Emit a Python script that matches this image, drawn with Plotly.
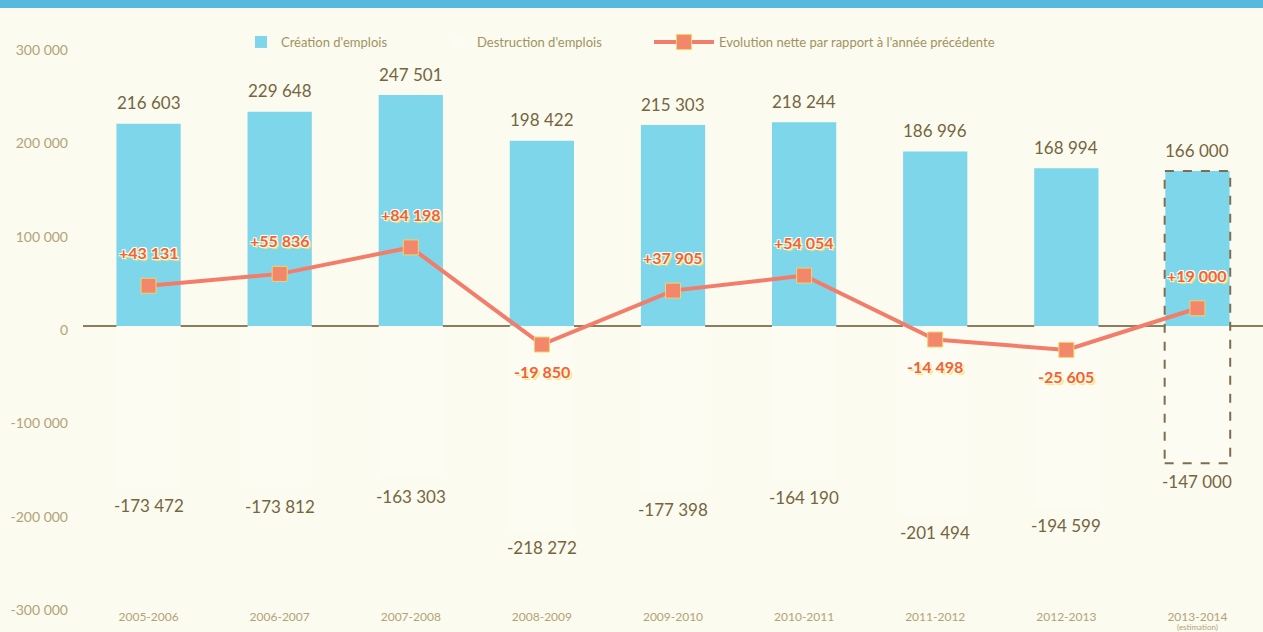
import plotly.graph_objects as go

categories = ["2005-2006", "2006-2007", "2007-2008", "2008-2009", "2009-2010",
              "2010-2011", "2011-2012", "2012-2013", "2013-2014"]
estimation_note = "(estimation)"
creation = [216603, 229648, 247501, 198422, 215303, 218244, 186996, 168994, 166000]
destruction = [-173472, -173812, -163303, -218272, -177398, -164190, -201494, -194599, -147000]
net = [43131, 55836, 84198, -19850, 37905, 54054, -14498, -25605, 19000]
y_tick_vals = [300000, 200000, 100000, 0, -100000, -200000, -300000]
y_tick_text = ["300 000", "200 000", "100 000", "0", "-100 000", "-200 000", "-300 000"]

BG = "#fcfbef"
LABEL = "#75653f"
AXIS_TXT = "#b2a377"
CYAN = "#7dd6ea"
SALMON = "#f27d6a"
NET_TXT = "#f0623e"
FONT = "Lato"

W, H = 1263, 632
ML, MR, MT, MB = 83, 0, 46, 26
PW, PH = W - ML - MR, H - MT - MB


def fmt(v, sign=False):
    s = f"{abs(v):,}".replace(",", " ")
    if v < 0:
        return "-" + s
    return ("+" + s) if sign else s


fig = go.Figure()

fig.add_trace(go.Bar(
    x=categories, y=creation, name="Création d'emplois",
    marker=dict(color=CYAN, line=dict(width=0)), width=0.49,
    cliponaxis=False, legend="legend",
))
fig.add_trace(go.Bar(
    x=categories, y=destruction, name="Destruction d'emplois",
    marker=dict(color="#fdfcf3", line=dict(width=0)), width=0.49,
    cliponaxis=False, legend="legend2",
))
fig.add_trace(go.Scatter(
    x=categories, y=net, name="Evolution nette par rapport à l'année précédente",
    mode="lines+markers",
    line=dict(color=SALMON, width=4),
    marker=dict(symbol="square", size=15, color="#f2876b",
                line=dict(color="#f3d46a", width=1)),
    cliponaxis=False, legend="legend3",
))

for c, v in zip(categories, creation):
    fig.add_annotation(x=c, y=v, text=fmt(v), showarrow=False, yanchor="middle",
                       yshift=21, font=dict(family=FONT, size=17, color=LABEL))
for c, v in zip(categories, destruction):
    fig.add_annotation(x=c, y=v, text=fmt(v), showarrow=False, yanchor="middle",
                       yshift=-18, font=dict(family=FONT, size=17, color=LABEL))

halo = ("0 0 2px #fffbe0, 1px 1px 0 #fff6b0, -1px -1px 0 #ffffff, "
        "1px -1px 0 #ffffff, -1px 1px 0 #ffffff, 2px 2px 1px #f7e27a")
for c, v in zip(categories, net):
    fig.add_annotation(
        x=c, y=v, text=fmt(v, sign=True), showarrow=False, yanchor="middle",
        yshift=33 if v > 0 else -27,
        font=dict(family=FONT, size=16, color=NET_TXT, weight="bold", shadow=halo),
    )

# "(estimation)" note under the last category label
fig.add_annotation(x=categories[-1], xref="x", yref="paper", y=-21 / PH,
                   text=estimation_note, showarrow=False, yanchor="middle",
                   font=dict(family=FONT, size=8, color=AXIS_TXT))

# dashed frame around the estimated year
fig.add_shape(type="rect", xref="x", yref="y",
              x0=len(categories) - 1 - 0.25, x1=len(categories) - 1 + 0.25,
              y0=destruction[-1], y1=creation[-1],
              line=dict(color="#7d6d52", width=2, dash="dash"), layer="above")

# top blue strip (cropped header)
fig.add_shape(type="rect", xref="paper", yref="paper",
              x0=-ML / PW, x1=1.0, y0=1 + (MT - 8) / PH, y1=1 + (MT + 2) / PH,
              fillcolor="#55bade", line=dict(width=0), layer="above")

leg_common = dict(orientation="h", yanchor="middle", y=1 + (MT - 42) / PH,
                  xanchor="left", bgcolor="rgba(0,0,0,0)",
                  font=dict(family=FONT, size=13, color="#a19262"))

fig.update_layout(
    width=W, height=H,
    margin=dict(l=ML, r=MR, t=MT, b=MB, autoexpand=False),
    paper_bgcolor=BG, plot_bgcolor=BG,
    barmode="overlay",
    showlegend=True,
    legend=dict(leg_common, x=(241 - ML) / PW),
    legend2=dict(leg_common, x=(437 - ML) / PW),
    legend3=dict(leg_common, x=(649 - ML) / PW, itemwidth=60),
    font=dict(family=FONT),
    xaxis=dict(
        tickmode="array", tickvals=categories, ticktext=categories,
        tickfont=dict(family=FONT, size=12, color=AXIS_TXT),
        showgrid=False, showline=False, ticks="", range=[-0.5, len(categories) - 0.5],
        ticklabelstandoff=2,
    ),
    yaxis=dict(
        range=[-300000, 300000], tickmode="array",
        tickvals=y_tick_vals, ticktext=y_tick_text,
        tickfont=dict(family=FONT, size=14, color=AXIS_TXT),
        showgrid=False, zeroline=True, zerolinecolor="#8c7d5c", zerolinewidth=1.5,
        ticklabelstandoff=14, ticklabelshift=4, ticks="",
    ),
)

fig.write_html("out.html", config={"displayModeBar": False},
               post_script="document.body.style.margin='0';document.body.style.overflow='hidden';")
